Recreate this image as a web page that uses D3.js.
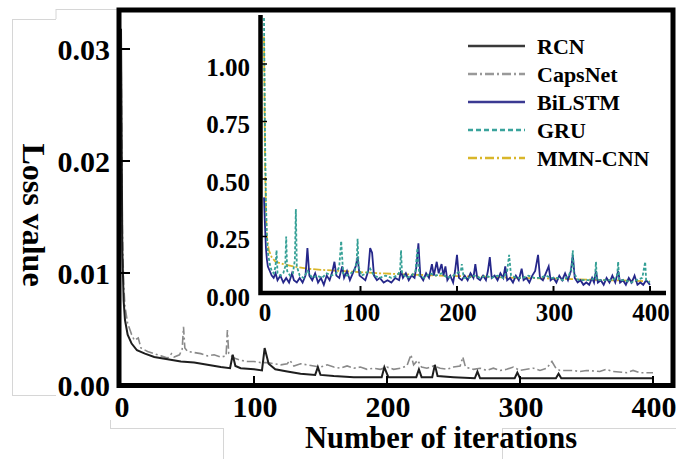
<!DOCTYPE html>
<html lang="en">
<head>
<meta charset="UTF-8">
<title>Loss value</title>
<style>
body { margin: 0; background: #fff; }
svg { display: block; }
text { font-family: "Liberation Serif", "Times New Roman", serif; font-weight: bold; fill: #000; }
</style>
</head>
<body>
<svg id="chart" width="676" height="459"></svg>
<script src="https://cdn.jsdelivr.net/npm/d3@7"></script>
<script>

// main chart (RCN, CapsNet)
const mainTicksX = [0, 100, 200, 300, 400];
const mainTicksY = [0, 0.01, 0.02, 0.03];

const rcnIter = [0, 1, 2, 3, 5, 8, 12, 18, 25, 35, 45, 55, 65, 75, 82, 84, 86, 90, 100, 106, 108, 111, 116, 125, 135, 146, 148, 150, 160, 175, 190, 196, 198, 201, 210, 222, 224, 226, 234, 236, 238, 250, 266, 268, 270, 285, 296, 298, 300, 315, 327, 329, 331, 345, 365, 380, 400];
const rcnLoss = [0.0318, 0.012, 0.0075, 0.0058, 0.0045, 0.0037, 0.0031, 0.0028, 0.0025, 0.0023, 0.0021, 0.0020, 0.0018, 0.0016, 0.0015, 0.0027, 0.0017, 0.0015, 0.0014, 0.0013, 0.0033, 0.0019, 0.0014, 0.0012, 0.0010, 0.0009, 0.0016, 0.0009, 0.0008, 0.0007, 0.0007, 0.0007, 0.0016, 0.0007, 0.0007, 0.0007, 0.0014, 0.0007, 0.0007, 0.0018, 0.0008, 0.0007, 0.0006, 0.0012, 0.0006, 0.0006, 0.0006, 0.0011, 0.0006, 0.0006, 0.0006, 0.0010, 0.0006, 0.0006, 0.0006, 0.0006, 0.0006];

const capsIter = [0, 1, 2, 3, 5, 8, 10, 13, 15, 20, 25, 30, 35, 38, 40, 44, 46, 47, 48, 50, 55, 60, 65, 70, 75, 79, 80, 81, 85, 90, 95, 100, 105, 110, 115, 120, 125, 127, 130, 135, 140, 145, 150, 155, 160, 165, 170, 175, 180, 185, 190, 195, 200, 205, 210, 215, 218, 220, 223, 226, 230, 235, 240, 245, 250, 255, 257, 259, 265, 270, 275, 280, 285, 290, 295, 300, 305, 310, 315, 320, 324, 327, 330, 340, 345, 350, 360, 365, 370, 380, 385, 390, 400];
const capsLoss = [0.031, 0.014, 0.009, 0.007, 0.0055, 0.0045, 0.004, 0.0042, 0.0033, 0.003, 0.0028, 0.0026, 0.0024, 0.0028, 0.0025, 0.0027, 0.0032, 0.0052, 0.0033, 0.003, 0.0029, 0.0028, 0.0026, 0.0027, 0.0025, 0.0026, 0.0049, 0.0028, 0.0024, 0.0022, 0.0021, 0.0021, 0.002, 0.002, 0.0019, 0.0018, 0.0019, 0.0022, 0.0017, 0.0019, 0.0018, 0.0017, 0.0016, 0.0018, 0.0016, 0.0015, 0.0017, 0.0015, 0.0016, 0.0014, 0.0015, 0.0014, 0.0016, 0.0014, 0.0015, 0.0017, 0.0027, 0.0018, 0.0022, 0.0016, 0.0015, 0.0017, 0.0015, 0.0014, 0.0016, 0.0017, 0.0025, 0.0016, 0.0014, 0.0015, 0.0013, 0.0015, 0.0013, 0.0014, 0.0016, 0.0013, 0.0014, 0.0015, 0.0013, 0.0015, 0.0021, 0.0015, 0.0013, 0.0013, 0.0012, 0.0013, 0.0012, 0.0014, 0.0012, 0.0011, 0.0013, 0.0011, 0.0011];

// inset chart (BiLSTM, GRU, MMN-CNN)
const insetTicksX = [0, 100, 200, 300, 400];
const insetTicksY = [0, 0.25, 0.5, 0.75, 1.0];

const bilstmIter = [0, 1, 2, 3, 4, 6, 8, 10, 12, 14, 17, 20, 23, 26, 29, 31, 34, 37, 40, 43, 45, 47, 50, 53, 56, 59, 62, 65, 68, 71, 73, 75, 78, 81, 83, 86, 89, 92, 95, 97, 99, 102, 105, 108, 110, 112, 114, 117, 120, 124, 128, 132, 136, 140, 142, 144, 147, 150, 153, 156, 158, 160, 162, 165, 168, 171, 174, 176, 179, 181, 184, 186, 188, 190, 193, 196, 198, 200, 202, 205, 208, 211, 214, 217, 219, 221, 224, 227, 230, 232, 234, 236, 239, 242, 245, 248, 250, 252, 255, 258, 261, 264, 267, 269, 272, 275, 278, 281, 284, 286, 289, 292, 295, 297, 300, 303, 306, 309, 312, 315, 318, 320, 322, 325, 328, 331, 334, 337, 340, 342, 344, 346, 349, 352, 355, 358, 361, 364, 367, 369, 372, 375, 378, 381, 384, 387, 390, 393, 396, 400];
const bilstmLoss = [0.42, 0.3, 0.2, 0.15, 0.12, 0.1, 0.08, 0.07, 0.09, 0.06, 0.08, 0.05, 0.07, 0.05, 0.09, 0.06, 0.05, 0.07, 0.05, 0.08, 0.2, 0.08, 0.06, 0.09, 0.05, 0.07, 0.04, 0.08, 0.06, 0.1, 0.14, 0.08, 0.07, 0.12, 0.07, 0.1, 0.06, 0.09, 0.12, 0.16, 0.08, 0.07, 0.06, 0.1, 0.2, 0.18, 0.08, 0.06, 0.07, 0.05, 0.06, 0.05, 0.07, 0.06, 0.1, 0.07, 0.09, 0.06, 0.08, 0.07, 0.12, 0.22, 0.08, 0.06, 0.09, 0.07, 0.13, 0.08, 0.14, 0.09, 0.13, 0.08, 0.12, 0.06, 0.08, 0.05, 0.1, 0.17, 0.07, 0.06, 0.08, 0.06, 0.09, 0.07, 0.13, 0.07, 0.06, 0.08, 0.06, 0.1, 0.16, 0.07, 0.08, 0.06, 0.09, 0.07, 0.12, 0.06, 0.07, 0.05, 0.08, 0.06, 0.11, 0.06, 0.07, 0.05, 0.08, 0.1, 0.17, 0.07, 0.06, 0.09, 0.12, 0.06, 0.07, 0.05, 0.08, 0.06, 0.09, 0.06, 0.1, 0.17, 0.07, 0.05, 0.06, 0.04, 0.05, 0.04, 0.07, 0.05, 0.1, 0.05, 0.06, 0.04, 0.07, 0.05, 0.08, 0.05, 0.1, 0.05, 0.06, 0.04, 0.07, 0.05, 0.08, 0.04, 0.05, 0.04, 0.06, 0.04];

const gruIter = [0, 1, 2, 3, 4, 6, 8, 10, 12, 13, 14, 17, 20, 22, 23, 24, 27, 30, 32, 33, 34, 37, 41, 45, 50, 55, 60, 65, 70, 75, 78, 80, 82, 86, 90, 94, 96, 97, 98, 101, 106, 110, 114, 120, 126, 132, 138, 141, 142, 143, 148, 153, 157, 159, 161, 166, 172, 178, 184, 190, 196, 200, 204, 205, 207, 212, 218, 224, 230, 236, 242, 248, 252, 254, 256, 262, 268, 274, 280, 286, 292, 298, 304, 310, 316, 319, 320, 321, 326, 332, 338, 343, 344, 345, 350, 356, 362, 366, 367, 368, 374, 380, 386, 392, 395, 396, 400];
const gruLoss = [1.2, 0.7, 0.4, 0.25, 0.18, 0.13, 0.1, 0.09, 0.12, 0.19, 0.09, 0.08, 0.09, 0.12, 0.25, 0.1, 0.08, 0.09, 0.15, 0.37, 0.12, 0.08, 0.07, 0.1, 0.07, 0.08, 0.07, 0.09, 0.08, 0.09, 0.12, 0.23, 0.09, 0.08, 0.09, 0.1, 0.14, 0.24, 0.12, 0.08, 0.09, 0.11, 0.08, 0.07, 0.08, 0.07, 0.08, 0.1, 0.19, 0.09, 0.07, 0.08, 0.1, 0.2, 0.08, 0.07, 0.09, 0.08, 0.09, 0.07, 0.08, 0.09, 0.1, 0.13, 0.07, 0.07, 0.08, 0.07, 0.08, 0.07, 0.08, 0.07, 0.1, 0.17, 0.08, 0.07, 0.07, 0.08, 0.07, 0.07, 0.08, 0.07, 0.07, 0.06, 0.08, 0.12, 0.19, 0.09, 0.06, 0.06, 0.06, 0.07, 0.14, 0.06, 0.06, 0.06, 0.06, 0.08, 0.14, 0.06, 0.06, 0.05, 0.06, 0.07, 0.14, 0.06, 0.05];

const mmnIter = [0, 1, 2, 3, 5, 8, 12, 20, 30, 45, 60, 80, 100, 120, 150, 180, 200, 230, 260, 290, 320, 350, 380, 400];
const mmnLoss = [1.12, 0.6, 0.35, 0.25, 0.19, 0.16, 0.14, 0.13, 0.12, 0.11, 0.105, 0.1, 0.095, 0.09, 0.085, 0.08, 0.078, 0.075, 0.07, 0.068, 0.065, 0.06, 0.058, 0.055];

const legendNames = ["RCN", "CapsNet", "BiLSTM", "GRU", "MMN-CNN"];
const legendColors = ["#3a3a3a", "#999999", "#3b3a92", "#3aa39c", "#d9b62a"];
const legendDash = [null, "9,3,2,3", null, "5,3", "9,3,2,3"];

const svg = d3.select("#chart");

// faint frame lines from the source picture
const frame = [
	[12.5, 19, 12.5, 395], [12, 19.5, 56, 19.5], [56, 9, 56, 19], [56, 9.5, 118, 9.5],
	[12, 395.5, 56, 395.5], [110.5, 420, 110.5, 428], [110, 428.5, 223, 428.5],
	[223.5, 428, 223.5, 459], [502.5, 428, 502.5, 459], [502, 428.5, 676, 428.5]
];
svg.selectAll("line.frame").data(frame).join("line")
	.attr("class", "frame")
	.attr("x1", d => d[0]).attr("y1", d => d[1])
	.attr("x2", d => d[2]).attr("y2", d => d[3])
	.attr("stroke", "#d6d6d6").attr("stroke-width", 1);

// main scales
const x = d3.scaleLinear().domain([0, 400]).range([121, 653]);
const y = d3.scaleLinear().domain([0, 0.03]).range([385, 49]);

const mainLine = d3.line().x(d => x(d[0])).y(d => y(d[1]));

svg.append("path")
	.datum(d3.zip(capsIter, capsLoss))
	.attr("d", mainLine)
	.attr("fill", "none")
	.attr("stroke", "#8a8a8a")
	.attr("stroke-width", 1.6)
	.attr("stroke-dasharray", "9,3,2,3");

svg.append("path")
	.datum(d3.zip(rcnIter, rcnLoss))
	.attr("d", mainLine)
	.attr("fill", "none")
	.attr("stroke", "#1e1e1e")
	.attr("stroke-width", 2);

// main frame
svg.append("rect")
	.attr("x", 119).attr("y", 10)
	.attr("width", 554).attr("height", 375.5)
	.attr("fill", "none")
	.attr("stroke", "#000")
	.attr("stroke-width", 5);

// main ticks (inward)
svg.selectAll("line.ytick").data(mainTicksY.slice(1)).join("line")
	.attr("x1", 121).attr("x2", 130)
	.attr("y1", d => y(d)).attr("y2", d => y(d))
	.attr("stroke", "#000").attr("stroke-width", 2);

svg.selectAll("line.xtick").data(mainTicksX.slice(1)).join("line")
	.attr("x1", d => x(d)).attr("x2", d => x(d))
	.attr("y1", 383).attr("y2", 376)
	.attr("stroke", "#000").attr("stroke-width", 2);

svg.selectAll("text.ylab").data(mainTicksY).join("text")
	.attr("x", 110)
	.attr("y", d => y(d))
	.attr("dy", "0.35em")
	.attr("text-anchor", "end")
	.style("font-size", "30px")
	.text(d => d3.format(".2f")(d));

svg.selectAll("text.xlab").data(mainTicksX).join("text")
	.attr("x", d => x(d) + 1)
	.attr("y", 417)
	.attr("text-anchor", "middle")
	.style("font-size", "30px")
	.text(d => d);

svg.append("text")
	.attr("transform", "translate(23,215) rotate(90)")
	.attr("text-anchor", "middle")
	.style("font-size", "32px")
	.text("Loss value");

svg.append("text")
	.attr("x", 441)
	.attr("y", 448)
	.attr("text-anchor", "middle")
	.style("font-size", "30.5px")
	.text("Number of iterations");

// inset
const ix = d3.scaleLinear().domain([0, 400]).range([264, 650]);
const iy = d3.scaleLinear().domain([0, 1]).range([294, 64]);

svg.append("rect")
	.attr("x", 200).attr("y", 13)
	.attr("width", 470).attr("height", 310)
	.attr("fill", "#fff");

const insetLine = d3.line().x(d => ix(d[0])).y(d => iy(d[1]));

svg.append("path")
	.datum(d3.zip(mmnIter, mmnLoss))
	.attr("d", insetLine)
	.attr("fill", "none")
	.attr("stroke", "#d9b62a")
	.attr("stroke-width", 1.8)
	.attr("stroke-dasharray", "8,2,2,2");

svg.append("path")
	.datum(d3.zip(bilstmIter, bilstmLoss))
	.attr("d", insetLine)
	.attr("fill", "none")
	.attr("stroke", "#25278a")
	.attr("stroke-width", 1.8);

svg.append("path")
	.datum(d3.zip(gruIter, gruLoss))
	.attr("d", insetLine)
	.attr("fill", "none")
	.attr("stroke", "#35a096")
	.attr("stroke-width", 1.8)
	.attr("stroke-dasharray", "3,2");

// inset axes
svg.append("path")
	.attr("d", "M260.5,15V293H666")
	.attr("fill", "none")
	.attr("stroke", "#000")
	.attr("stroke-width", 4.5);

svg.selectAll("line.iytick").data(insetTicksY.slice(1)).join("line")
	.attr("x1", 262).attr("x2", 267)
	.attr("y1", d => iy(d)).attr("y2", d => iy(d))
	.attr("stroke", "#000").attr("stroke-width", 1.5);

svg.selectAll("line.ixtick").data(insetTicksX.slice(1)).join("line")
	.attr("x1", d => ix(d)).attr("x2", d => ix(d))
	.attr("y1", 291).attr("y2", 286)
	.attr("stroke", "#000").attr("stroke-width", 2);

svg.selectAll("text.iylab").data(insetTicksY).join("text")
	.attr("x", 250)
	.attr("y", d => iy(d) + 3)
	.attr("dy", "0.35em")
	.attr("text-anchor", "end")
	.style("font-size", "25px")
	.text(d => d3.format(".2f")(d));

svg.selectAll("text.ixlab").data(insetTicksX).join("text")
	.attr("x", d => ix(d) + 1)
	.attr("y", 321)
	.attr("text-anchor", "middle")
	.style("font-size", "25px")
	.text(d => d);

// legend
const legend = svg.append("g");
legendNames.forEach((name, i) => {
	const ly = 46 + i * 28;
	legend.append("line")
		.attr("x1", 468).attr("x2", 525)
		.attr("y1", ly).attr("y2", ly)
		.attr("stroke", legendColors[i])
		.attr("stroke-width", 2.4)
		.attr("stroke-dasharray", legendDash[i]);
	legend.append("text")
		.attr("x", 537)
		.attr("y", ly)
		.attr("dy", "0.35em")
		.style("font-size", "22px")
		.text(name);
});

</script>
</body>
</html>
